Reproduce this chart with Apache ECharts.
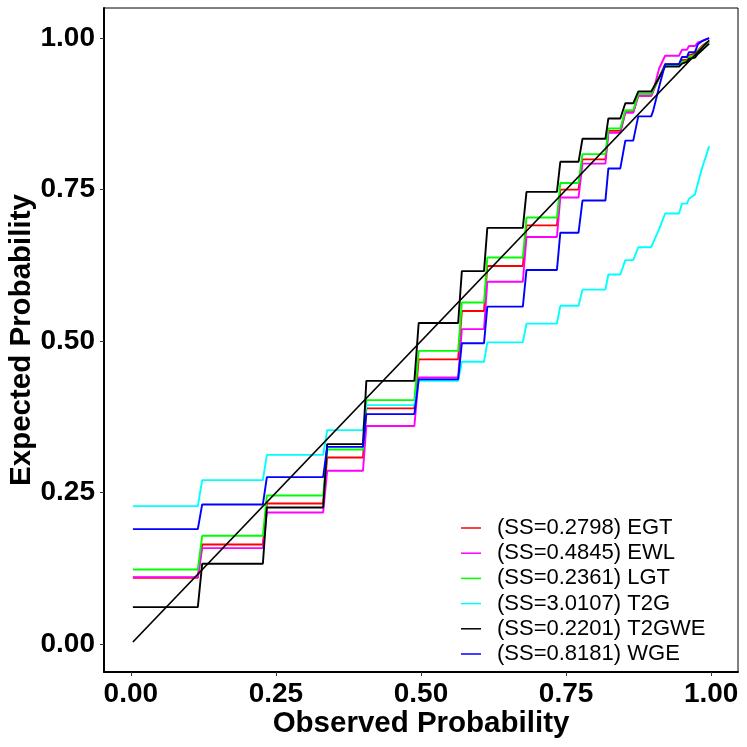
<!DOCTYPE html>
<html><head><meta charset="utf-8">
<script src="https://cdn.jsdelivr.net/npm/echarts@6/dist/echarts.min.js"></script>
<style>html,body{margin:0;padding:0;background:#fff}#c{width:747px;height:747px}</style>
</head><body><div id="c"></div>
<script>
const legendLabels = ["(SS=0.2798) EGT", "(SS=0.4845) EWL", "(SS=0.2361) LGT", "(SS=3.0107) T2G", "(SS=0.2201) T2GWE", "(SS=0.8181) WGE"];
const colors = ["#FF0000", "#FF00FF", "#00FF00", "#00FFFF", "#000000", "#0000FF"];
const tickValues = [0, 0.25, 0.5, 0.75, 1];

// observed probability: start / end of each tied group
const groupStart = [0.0035, 0.1229, 0.2344, 0.3383, 0.4058, 0.4960, 0.5704, 0.6143, 0.6818, 0.7401, 0.7783, 0.8229, 0.8521, 0.8744];
const groupEnd   = [0.1154, 0.2275, 0.3314, 0.4000, 0.4886, 0.5640, 0.6086, 0.6755, 0.7343, 0.7715, 0.8178, 0.8435, 0.8658, 0.8967];

// expected probability per group
const levelsEGT   = [0.1095, 0.1645, 0.2321, 0.3080, 0.3890, 0.4700, 0.5497, 0.6240, 0.6910, 0.7500, 0.8000, 0.8470, 0.8780, 0.9050];
const levelsEWL   = [0.1105, 0.1584, 0.2173, 0.2860, 0.3600, 0.4400, 0.5198, 0.5980, 0.6720, 0.7370, 0.7930, 0.8438, 0.8770, 0.9050];
const levelsLGT   = [0.1232, 0.1788, 0.2453, 0.3213, 0.4026, 0.4840, 0.5637, 0.6380, 0.7040, 0.7610, 0.8086, 0.8510, 0.8810, 0.9080];
const levelsT2G   = [0.2277, 0.2706, 0.3124, 0.3531, 0.3944, 0.4345, 0.4660, 0.4980, 0.5290, 0.5583, 0.5850, 0.6100, 0.6337, 0.6550];
const levelsT2GWE = [0.0610, 0.1326, 0.2255, 0.3300, 0.4345, 0.5300, 0.6155, 0.6870, 0.7464, 0.7960, 0.8340, 0.8675, 0.8925, 0.9120];
const levelsWGE   = [0.1898, 0.2305, 0.2756, 0.3256, 0.3795, 0.4370, 0.4965, 0.5570, 0.6175, 0.6790, 0.7320, 0.7850, 0.8310, 0.8710];

// upper tail (individual observations)
const tailX     = [0.9001, 0.9104, 0.9207, 0.9447, 0.9498, 0.9584, 0.9618, 0.9721, 0.9772, 0.9841, 0.9910, 0.9966];
const tailEGT   = [0.9060, 0.9350, 0.9570, 0.9570, 0.9640, 0.9640, 0.9720, 0.9750, 0.9800, 0.9870, 0.9920, 0.9950];
const tailEWL   = [0.9120, 0.9500, 0.9710, 0.9710, 0.9810, 0.9810, 0.9870, 0.9870, 0.9930, 0.9950, 0.9980, 1.0000];
const tailLGT   = [0.9090, 0.9350, 0.9540, 0.9540, 0.9610, 0.9620, 0.9690, 0.9720, 0.9780, 0.9850, 0.9900, 0.9940];
const tailT2G   = [0.6570, 0.6850, 0.7107, 0.7107, 0.7270, 0.7270, 0.7350, 0.7420, 0.7600, 0.7850, 0.8050, 0.8220];
const tailT2GWE = [0.9130, 0.9350, 0.9530, 0.9530, 0.9580, 0.9610, 0.9660, 0.9680, 0.9740, 0.9800, 0.9860, 0.9910];
const tailWGE   = [0.8800, 0.9200, 0.9570, 0.9570, 0.9690, 0.9690, 0.9770, 0.9770, 0.9900, 0.9950, 0.9980, 1.0000];

const diagonal = [0.0035, 0.9966];

const levels = [levelsEGT, levelsEWL, levelsLGT, levelsT2G, levelsT2GWE, levelsWGE];
const tails = [tailEGT, tailEWL, tailLGT, tailT2G, tailT2GWE, tailWGE];

function buildData(lv, tail) {
  const d = [];
  for (let i = 0; i < groupStart.length; i++) {
    d.push([groupStart[i], lv[i]]);
    d.push([groupEnd[i], lv[i]]);
  }
  for (let i = 0; i < tailX.length; i++) d.push([tailX[i], tail[i]]);
  return d;
}

const FONT = "Liberation Sans, Arial, Helvetica, sans-serif";
const series = legendLabels.map((name, k) => ({
  name: name, type: 'line', data: buildData(levels[k], tails[k]),
  showSymbol: false, symbol: 'none', color: colors[k],
  lineStyle: { color: colors[k], width: 1.9 }, z: 2 + k, animation: false
}));
series.push({
  name: 'diag', type: 'line', data: diagonal.map(v => [v, v]),
  showSymbol: false, symbol: 'none', color: '#000',
  lineStyle: { color: '#000', width: 1.7 }, z: 10, animation: false
});

const chart = echarts.init(document.getElementById('c'), null, { renderer: 'canvas' });
const axisCommon = {
  type: 'value',
  axisLine: { show: true, onZero: false, lineStyle: { color: '#000', width: 2 } },
  axisTick: { show: true, customValues: tickValues, length: 4, lineStyle: { color: '#333', width: 1 } },
  axisLabel: { customValues: tickValues, formatter: v => v.toFixed(2), fontSize: 28, fontWeight: 'bold', color: '#000', fontFamily: FONT },
  splitLine: { show: false },
  nameLocation: 'middle',
  nameMoveOverlap: false,
  nameTextStyle: { fontSize: 29.5, fontWeight: 'bold', color: '#000', fontFamily: FONT }
};
chart.setOption({
  animation: false,
  backgroundColor: '#fff',
  grid: { left: 104, top: 8, width: 634, height: 664, show: true, borderColor: '#000', borderWidth: 1,
          backgroundColor: 'transparent', containLabel: false, outerBoundsMode: 'none' },
  xAxis: Object.assign({}, axisCommon, { min: -0.0463, max: 1.0463, name: 'Observed Probability', nameGap: 37,
    axisLabel: Object.assign({}, axisCommon.axisLabel, { margin: 8 }) }),
  yAxis: Object.assign({}, axisCommon, { min: -0.046, max: 1.0498, name: 'Expected Probability', nameGap: 67,
    axisLabel: Object.assign({}, axisCommon.axisLabel, { margin: 9 }) }),
  legend: {
    data: legendLabels, orient: 'vertical', left: 456, top: 512, icon: 'rect',
    itemWidth: 20, itemHeight: 1.5, itemGap: 3.2, selectedMode: false,
    textStyle: { fontSize: 22, lineHeight: 22, color: '#000', fontFamily: FONT, padding: [0, 0, 0, 11] }
  },
  series: series
});
</script></body></html>
